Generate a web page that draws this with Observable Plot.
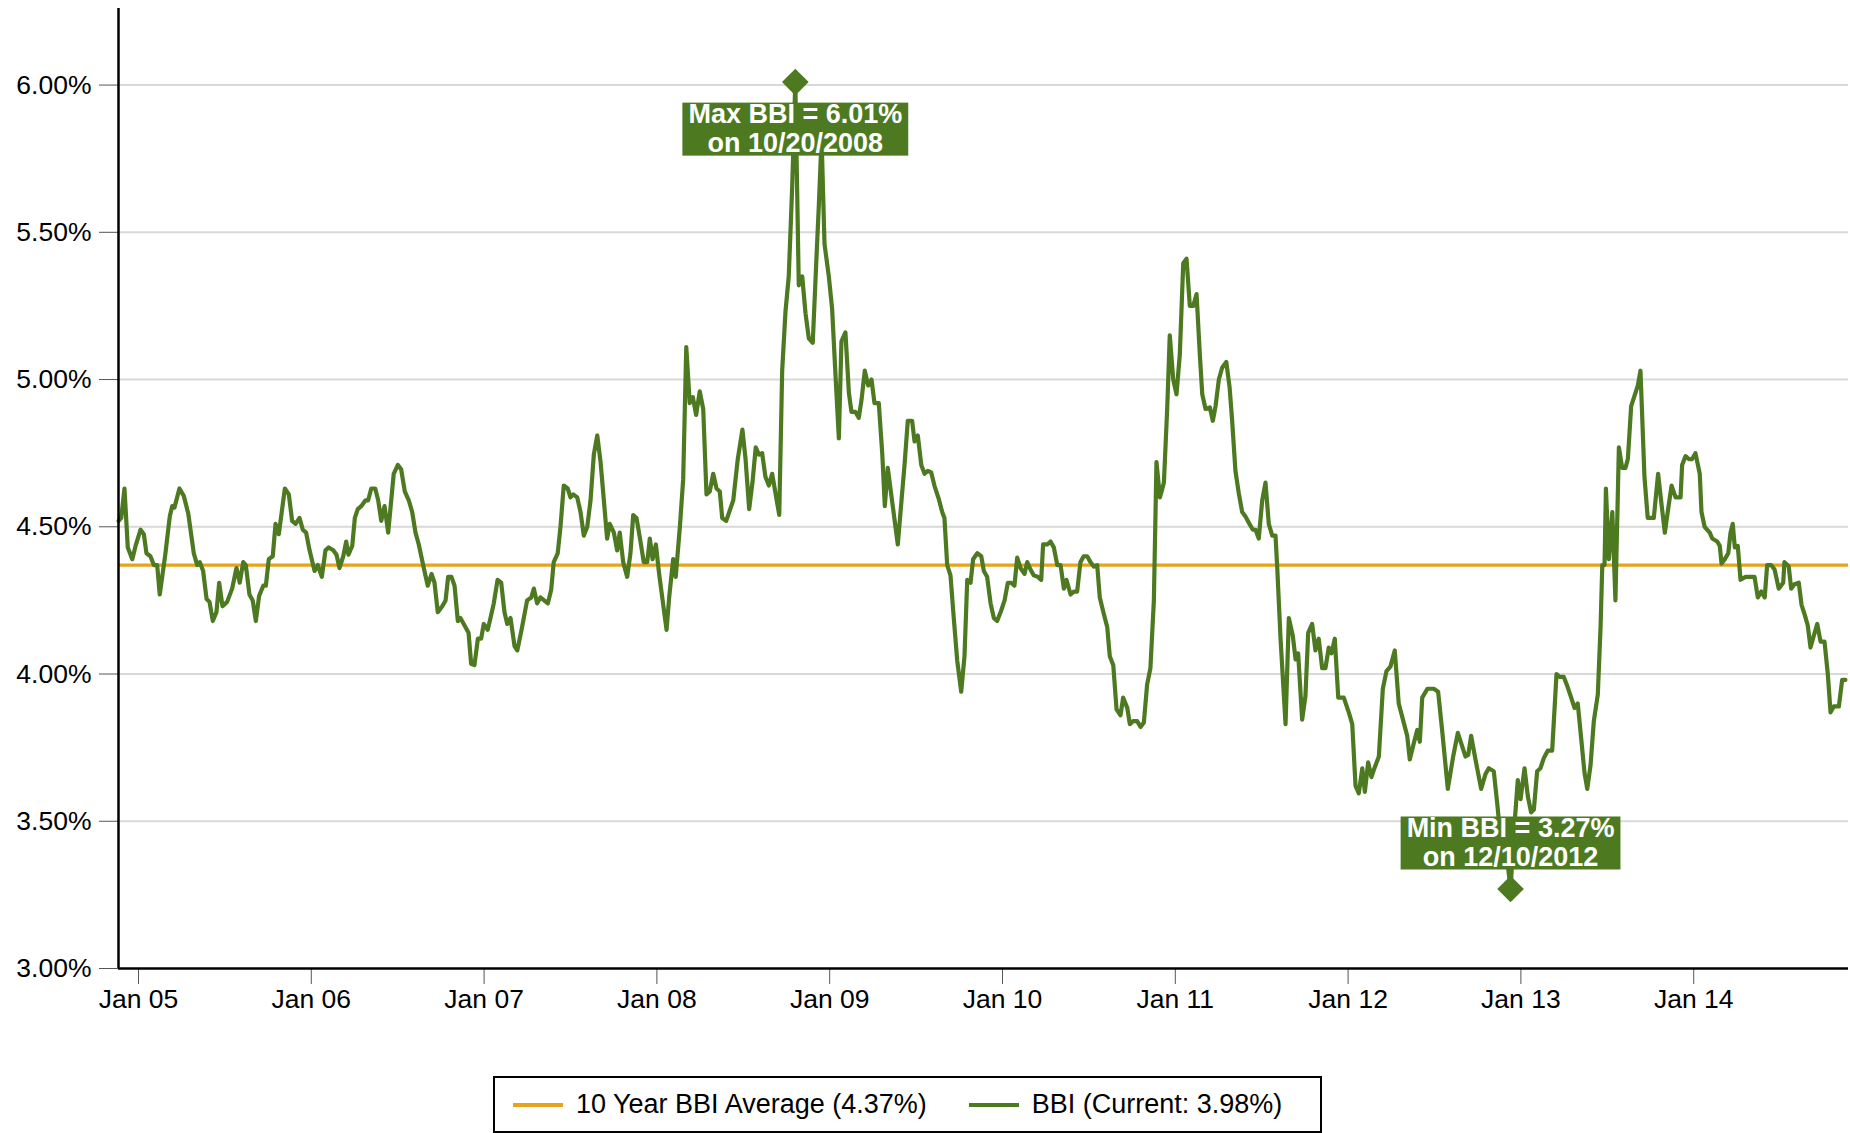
<!DOCTYPE html>
<html>
<head>
<meta charset="utf-8">
<script src="https://cdn.jsdelivr.net/npm/d3@7"></script>
<script src="https://cdn.jsdelivr.net/npm/@observablehq/plot@0.6"></script>
<style>
  html, body { margin: 0; padding: 0; background: #fff; }
  body { width: 1850px; height: 1133px; position: relative; overflow: hidden; font-family: "Liberation Sans", Arial, sans-serif; }
  #legend { position: absolute; left: 493px; top: 1076px; width: 825px; height: 53px; border: 2px solid #000; box-sizing: content-box; display: flex; align-items: center; font-size: 27px; color: #000; }
  #legend .sw { display: inline-block; height: 4px; }
</style>
</head>
<body>
<div id="chart"></div>
<div id="legend"></div>
<script>
const weekYear = [
2004.885,2004.900,2004.919,2004.938,2004.964,2004.983,2005.012,2005.031,2005.046,2005.069,2005.089,2005.108,2005.123,2005.156,2005.181,2005.195,2005.208,2005.237,2005.262,2005.288,
2005.320,2005.340,2005.355,2005.374,2005.394,2005.411,2005.430,2005.451,2005.467,2005.486,2005.513,2005.542,2005.567,2005.586,2005.606,2005.621,2005.642,2005.661,2005.679,2005.698,
2005.722,2005.737,2005.754,2005.777,2005.793,2005.812,2005.847,2005.870,2005.889,2005.909,2005.932,2005.951,2005.970,2005.990,2006.019,2006.038,2006.061,2006.082,2006.101,2006.127,
2006.146,2006.163,2006.185,2006.202,2006.215,2006.237,2006.252,2006.269,2006.289,2006.314,2006.329,2006.347,2006.370,2006.387,2006.405,2006.424,2006.445,2006.477,2006.501,2006.520,
2006.541,2006.564,2006.584,2006.603,2006.622,2006.651,2006.674,2006.696,2006.713,2006.732,2006.758,2006.777,2006.792,2006.811,2006.829,2006.848,2006.863,2006.887,2006.910,2006.925,
2006.944,2006.964,2006.983,2006.998,2007.021,2007.037,2007.056,2007.078,2007.099,2007.118,2007.134,2007.153,2007.176,2007.192,2007.215,2007.249,2007.273,2007.288,2007.307,2007.326,
2007.369,2007.388,2007.403,2007.426,2007.442,2007.461,2007.484,2007.500,2007.516,2007.539,2007.558,2007.577,2007.597,2007.616,2007.635,2007.655,2007.674,2007.693,2007.712,2007.727,
2007.751,2007.770,2007.785,2007.805,2007.828,2007.847,2007.863,2007.882,2007.905,2007.924,2007.944,2007.959,2007.975,2007.994,2008.013,2008.040,2008.056,2008.071,2008.094,2008.109,
2008.133,2008.152,2008.170,2008.190,2008.208,2008.227,2008.248,2008.268,2008.287,2008.306,2008.326,2008.345,2008.364,2008.378,2008.401,2008.442,2008.468,2008.495,2008.513,2008.534,
2008.553,2008.572,2008.590,2008.609,2008.628,2008.648,2008.667,2008.686,2008.708,2008.725,2008.744,2008.763,2008.783,2008.801,2008.821,2008.841,2008.860,2008.879,2008.902,2008.922,
2008.937,2008.953,2008.970,2008.995,2009.014,2009.034,2009.053,2009.068,2009.091,2009.111,2009.126,2009.149,2009.168,2009.184,2009.203,2009.223,2009.242,2009.259,2009.284,2009.304,
2009.319,2009.336,2009.365,2009.394,2009.433,2009.452,2009.477,2009.491,2009.510,2009.530,2009.549,2009.568,2009.587,2009.606,2009.631,2009.651,2009.664,2009.680,2009.699,2009.718,
2009.738,2009.761,2009.780,2009.796,2009.815,2009.830,2009.854,2009.877,2009.892,2009.911,2009.931,2009.950,2009.969,2009.992,2010.012,2010.031,2010.050,2010.069,2010.085,2010.104,
2010.127,2010.143,2010.162,2010.181,2010.204,2010.224,2010.235,2010.259,2010.278,2010.297,2010.317,2010.336,2010.355,2010.370,2010.394,2010.413,2010.432,2010.451,2010.470,2010.490,
2010.509,2010.528,2010.548,2010.563,2010.586,2010.606,2010.621,2010.641,2010.660,2010.683,2010.698,2010.722,2010.737,2010.756,2010.779,2010.799,2010.818,2010.837,2010.856,2010.876,
2010.891,2010.911,2010.934,2010.953,2010.968,2010.988,2011.007,2011.026,2011.046,2011.065,2011.084,2011.104,2011.123,2011.142,2011.156,2011.175,2011.200,2011.217,2011.233,2011.252,
2011.271,2011.295,2011.314,2011.329,2011.348,2011.367,2011.387,2011.406,2011.429,2011.449,2011.464,2011.483,2011.503,2011.522,2011.541,2011.561,2011.580,2011.590,2011.609,2011.638,
2011.657,2011.680,2011.696,2011.711,2011.734,2011.753,2011.769,2011.792,2011.811,2011.830,2011.850,2011.869,2011.888,2011.904,2011.923,2011.943,2011.975,2012.004,2012.024,2012.043,
2012.062,2012.082,2012.097,2012.116,2012.135,2012.149,2012.178,2012.201,2012.222,2012.245,2012.270,2012.293,2012.322,2012.342,2012.357,2012.380,2012.400,2012.415,2012.429,2012.459,
2012.496,2012.521,2012.544,2012.577,2012.608,2012.635,2012.679,2012.695,2012.712,2012.737,2012.770,2012.795,2012.814,2012.843,2012.863,2012.878,2012.905,2012.940,2012.963,2012.982,
2012.998,2013.021,2013.040,2013.059,2013.075,2013.094,2013.113,2013.133,2013.156,2013.181,2013.206,2013.225,2013.248,2013.268,2013.291,2013.310,2013.329,2013.349,2013.368,2013.384,
2013.403,2013.422,2013.445,2013.461,2013.471,2013.484,2013.492,2013.509,2013.529,2013.547,2013.567,2013.586,2013.605,2013.619,2013.638,2013.663,2013.677,2013.692,2013.715,2013.734,
2013.769,2013.794,2013.814,2013.833,2013.852,2013.872,2013.895,2013.924,2013.933,2013.953,2013.972,2013.991,2014.010,2014.035,2014.045,2014.063,2014.093,2014.107,2014.136,2014.151,
2014.161,2014.180,2014.200,2014.213,2014.226,2014.238,2014.255,2014.271,2014.300,2014.325,2014.352,2014.371,2014.391,2014.411,2014.425,2014.448,2014.468,2014.492,2014.518,2014.525,
2014.550,2014.564,2014.583,2014.608,2014.624,2014.643,2014.660,2014.676,2014.695,2014.715,2014.734,2014.757,2014.776,2014.792,2014.811,2014.840,2014.859,2014.878
];
const bbiPct = [
4.52,4.53,4.63,4.43,4.39,4.435,4.49,4.475,4.41,4.40,4.37,4.37,4.27,4.41,4.535,4.57,4.565,4.63,4.605,4.545,
4.41,4.37,4.38,4.35,4.255,4.245,4.18,4.21,4.31,4.23,4.245,4.29,4.36,4.31,4.38,4.37,4.27,4.25,4.18,4.265,
4.30,4.30,4.39,4.40,4.51,4.475,4.63,4.61,4.52,4.51,4.53,4.49,4.48,4.42,4.35,4.37,4.33,4.42,4.43,4.42,
4.405,4.36,4.40,4.45,4.405,4.435,4.53,4.56,4.57,4.59,4.59,4.63,4.63,4.59,4.52,4.57,4.48,4.68,4.71,4.695,
4.62,4.59,4.55,4.48,4.44,4.36,4.30,4.34,4.31,4.21,4.23,4.25,4.33,4.33,4.30,4.18,4.19,4.165,4.14,4.035,
4.03,4.12,4.12,4.17,4.15,4.19,4.24,4.32,4.31,4.21,4.17,4.19,4.095,4.08,4.145,4.25,4.26,4.29,4.24,4.26,
4.24,4.285,4.38,4.41,4.50,4.64,4.63,4.60,4.61,4.60,4.55,4.47,4.50,4.59,4.745,4.81,4.72,4.59,4.46,4.51,
4.48,4.42,4.48,4.38,4.33,4.41,4.54,4.53,4.45,4.38,4.38,4.46,4.39,4.44,4.34,4.22,4.15,4.26,4.39,4.33,
4.50,4.66,5.11,4.92,4.94,4.88,4.96,4.90,4.61,4.62,4.68,4.63,4.62,4.53,4.52,4.59,4.73,4.83,4.73,4.56,
4.65,4.77,4.745,4.75,4.67,4.64,4.68,4.615,4.54,5.03,5.23,5.35,5.655,6.01,5.32,5.35,5.225,5.14,5.125,5.395,
5.59,5.82,5.46,5.35,5.24,5.01,4.80,5.13,5.16,4.955,4.89,4.89,4.87,4.93,5.03,4.98,5.00,4.92,4.92,4.75,
4.57,4.70,4.57,4.44,4.71,4.86,4.86,4.79,4.81,4.71,4.68,4.69,4.685,4.64,4.595,4.55,4.53,4.37,4.335,4.19,
4.045,3.94,4.06,4.32,4.31,4.39,4.41,4.40,4.35,4.33,4.24,4.19,4.18,4.215,4.25,4.31,4.31,4.30,4.395,4.36,
4.34,4.38,4.355,4.335,4.33,4.32,4.44,4.44,4.45,4.43,4.37,4.37,4.29,4.32,4.27,4.28,4.28,4.38,4.40,4.40,
4.38,4.365,4.37,4.26,4.205,4.16,4.06,4.03,3.88,3.86,3.92,3.885,3.83,3.84,3.84,3.82,3.835,3.965,4.02,4.25,
4.72,4.60,4.65,4.90,5.15,5.00,4.95,5.085,5.395,5.41,5.25,5.25,5.29,5.085,4.95,4.90,4.905,4.86,4.91,5.00,
5.04,5.06,4.975,4.86,4.69,4.615,4.55,4.535,4.51,4.49,4.49,4.46,4.59,4.65,4.51,4.47,4.47,4.36,4.12,3.83,
4.19,4.13,4.05,4.07,3.845,3.925,4.14,4.17,4.08,4.12,4.02,4.02,4.09,4.07,4.12,3.92,3.92,3.87,3.83,3.62,
3.595,3.68,3.60,3.70,3.65,3.675,3.72,3.95,4.01,4.025,4.08,3.90,3.835,3.79,3.71,3.765,3.81,3.77,3.92,3.95,
3.95,3.94,3.81,3.61,3.72,3.80,3.72,3.725,3.79,3.71,3.61,3.66,3.68,3.67,3.56,3.47,3.45,3.27,3.49,3.64,
3.575,3.68,3.585,3.53,3.54,3.67,3.68,3.715,3.74,3.74,4.00,3.99,3.99,3.96,3.92,3.885,3.90,3.78,3.665,3.61,
3.69,3.84,3.93,4.16,4.37,4.37,4.63,4.39,4.55,4.25,4.77,4.70,4.70,4.73,4.91,4.955,4.98,5.03,4.67,4.53,
4.53,4.68,4.575,4.48,4.56,4.64,4.60,4.60,4.71,4.74,4.73,4.73,4.75,4.68,4.55,4.50,4.48,4.46,4.45,4.435,
4.375,4.39,4.41,4.48,4.51,4.43,4.435,4.32,4.33,4.33,4.33,4.26,4.28,4.26,4.37,4.37,4.355,4.29,4.31,4.38,
4.365,4.29,4.305,4.31,4.235,4.20,4.165,4.09,4.13,4.17,4.11,4.11,4.00,3.87,3.89,3.89,3.98,3.98
];
const avgBBI = 4.37;
const currentBBI = 3.98;
const yTicks = [3, 3.5, 4, 4.5, 5, 5.5, 6];
const yTickLabels = ["3.00%", "3.50%", "4.00%", "4.50%", "5.00%", "5.50%", "6.00%"];
const xTicks = [2005, 2006, 2007, 2008, 2009, 2010, 2011, 2012, 2013, 2014];
const xTickLabels = ["Jan 05", "Jan 06", "Jan 07", "Jan 08", "Jan 09", "Jan 10", "Jan 11", "Jan 12", "Jan 13", "Jan 14"];
const annKind = ["max", "min"];
const annYear = [2008.801, 2012.940];
const annValue = [6.01, 3.27];
const annText = ["Max BBI = 6.01%\non 10/20/2008", "Min BBI = 3.27%\non 12/10/2012"];
const legendLabels = ["10 Year BBI Average (4.37%)", "BBI (Current: 3.98%)"];

const GREEN = "#4d7a21";
const ORANGE = "#e8a31c";
const xDomain = [2004.8843, 2014.8958];

const data = weekYear.map((t, i) => ({t, v: bbiPct[i]}));
const ann = annKind.map((k, i) => ({k, t: annYear[i], v: annValue[i], text: annText[i]}));

const chart = Plot.plot({
  width: 1850,
  height: 1040,
  marginLeft: 118,
  marginRight: 2,
  marginTop: 8,
  marginBottom: 72,
  style: {fontFamily: "'Liberation Sans', Arial, sans-serif", fontSize: "26.5px", background: "#fff", overflow: "visible"},
  x: {type: "linear", domain: xDomain},
  y: {domain: [3, 6.26]},
  marks: [
    Plot.ruleY(yTicks.slice(1), {stroke: "#d9d9d9", strokeWidth: 2}),
    Plot.axisY({ticks: yTicks, tickSize: 19, tickPadding: 8, tickFormat: d => yTickLabels[yTicks.indexOf(d)], stroke: "#555", fill: "#000", fontSize: 26.5, label: null}),
    Plot.axisX({ticks: xTicks, tickSize: 16, tickPadding: 5, tickFormat: d => xTickLabels[xTicks.indexOf(d)], stroke: "#555", fill: "#000", fontSize: 26.5, label: null}),
    Plot.ruleY([avgBBI], {stroke: ORANGE, strokeWidth: 3.2}),
    Plot.line(data, {x: "t", y: "v", stroke: GREEN, strokeWidth: 4.2, strokeLinejoin: "round"}),
    Plot.ruleX([xDomain[0]], {stroke: "#000", strokeWidth: 2.5}),
    Plot.ruleY([3], {stroke: "#000", strokeWidth: 2.5}),
    Plot.dot(ann, {x: "t", y: "v", symbol: "diamond2", r: 12, fill: GREEN, stroke: "none"}),
    Plot.text(ann.filter(d => d.k === "max"), {x: "t", y: "v", text: "text", dy: 46, fill: "#fff", fontWeight: "bold", fontSize: 27, lineHeight: 1.1, lineAnchor: "middle"}),
    Plot.text(ann.filter(d => d.k === "min"), {x: "t", y: "v", text: "text", dy: -47, fill: "#fff", fontWeight: "bold", fontSize: 27, lineHeight: 1.1, lineAnchor: "middle"})
  ]
});
document.getElementById("chart").appendChild(chart);

// green label boxes behind annotation texts
const svgNS = "http://www.w3.org/2000/svg";
d3.select(chart).selectAll("text").each(function() {
  const tc = this.textContent || "";
  if (tc.startsWith("Max BBI") || tc.startsWith("Min BBI")) {
    const bb = this.getBBox();
    const cy = bb.y + bb.height / 2;
    const r = document.createElementNS(svgNS, "rect");
    r.setAttribute("x", bb.x - 6);
    r.setAttribute("width", bb.width + 12);
    r.setAttribute("y", cy - 26);
    r.setAttribute("height", 53);
    r.setAttribute("fill", GREEN);
    const tr = this.getAttribute("transform");
    if (tr) r.setAttribute("transform", tr);
    this.parentNode.insertBefore(r, this);
  }
});

// legend
const lg = document.getElementById("legend");
const colors = [ORANGE, GREEN];
const swLeft = [18, 42];
legendLabels.forEach((lab, i) => {
  const sw = document.createElement("span");
  sw.className = "sw";
  sw.style.width = "50px";
  sw.style.background = colors[i];
  sw.style.marginLeft = swLeft[i] + "px";
  sw.style.marginRight = "13px";
  const tx = document.createElement("span");
  tx.textContent = lab;
  lg.appendChild(sw);
  lg.appendChild(tx);
});
</script>
</body>
</html>
